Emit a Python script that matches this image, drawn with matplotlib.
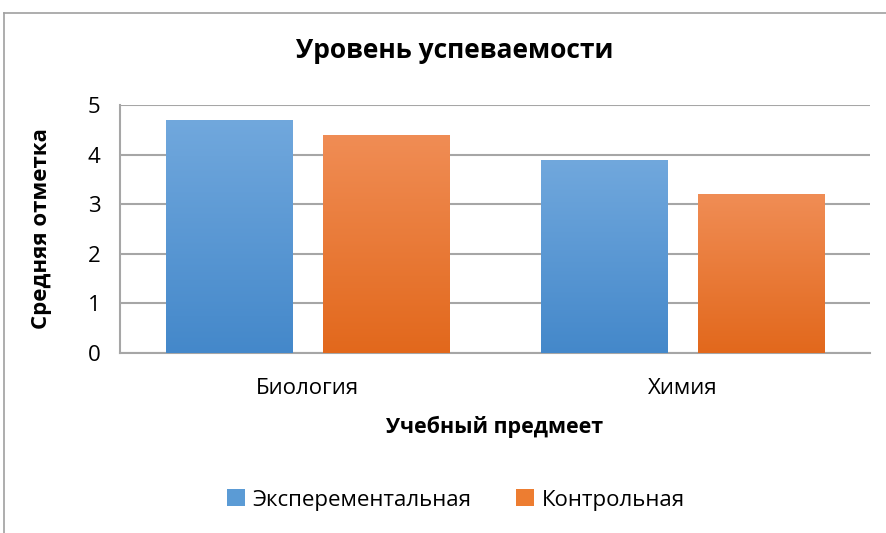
import numpy as np
import matplotlib.pyplot as plt
from matplotlib.colors import LinearSegmentedColormap
from matplotlib.lines import Line2D

plt.rcParams['font.family'] = ['Open Sans', 'DejaVu Sans']

# Data
subjects = ['Биология', 'Химия']
experimental = [4.7, 3.9]
control = [4.4, 3.2]
series_names = ['Эксперементальная', 'Контрольная']

fig = plt.figure(figsize=(8.86, 5.33), dpi=100)
ax = fig.add_axes([0.1354, 0.3377, 0.8466, 0.4653])

x = np.arange(len(subjects))
w = 0.336
off = 0.209

blue_cmap = LinearSegmentedColormap.from_list('b', ['#4488CA', '#71A8DD'])
orange_cmap = LinearSegmentedColormap.from_list('o', ['#E2681C', '#F08D55'])

bars1 = ax.bar(x - off, experimental, w, color='#5B9BD5', zorder=2, label=series_names[0])
bars2 = ax.bar(x + off, control, w, color='#ED7D31', zorder=2, label=series_names[1])

grad = np.linspace(0, 1, 256).reshape(-1, 1)
for bars, cmap in [(bars1, blue_cmap), (bars2, orange_cmap)]:
    for b in bars:
        x0, y0 = b.get_x(), b.get_y()
        im = ax.imshow(grad, cmap=cmap, origin='lower', aspect='auto', zorder=3,
                       extent=[x0, x0 + b.get_width(), y0, y0 + b.get_height()])
        im.set_clip_path(b)

ax.set_xlim(-0.5, 1.5)
ax.set_ylim(0, 5)
ax.set_yticks([0, 1, 2, 3, 4, 5])
ax.set_xticks(x)
ax.set_xticklabels(subjects)
ax.yaxis.grid(True, color='#A6A6A6', linewidth=1.5, zorder=0)
ax.set_axisbelow(True)
for s in ['top', 'right']:
    ax.spines[s].set_visible(False)
for s in ['left', 'bottom']:
    ax.spines[s].set_color('#A6A6A6')
    ax.spines[s].set_linewidth(1.5)
ax.tick_params(axis='y', length=0, labelsize=16, pad=14)
ax.tick_params(axis='x', length=0, labelsize=16, pad=18)

ax.set_xlabel('Учебный предмеет', fontsize=15.5, fontweight='bold', labelpad=12)
ax.set_ylabel('Средняя отметка', fontsize=16, fontweight='bold', labelpad=26)
fig.text(0.513, 0.905, 'Уровень успеваемости', ha='center', va='center',
         fontsize=19, fontweight='bold')

ax.legend(loc='center', bbox_to_anchor=(0.448, -0.593), ncol=2, frameon=False,
          fontsize=16, handlelength=0.8, handleheight=0.8, columnspacing=2.0, handletextpad=0.35)

# outer chart border
fig.add_artist(Line2D([4 / 886, 1], [1 - 13 / 533, 1 - 13 / 533], color='#A0A0A0', lw=1.2))
fig.add_artist(Line2D([4 / 886, 4 / 886], [0, 1 - 13 / 533], color='#A0A0A0', lw=1.2))

fig.savefig('out.png', dpi=100)
